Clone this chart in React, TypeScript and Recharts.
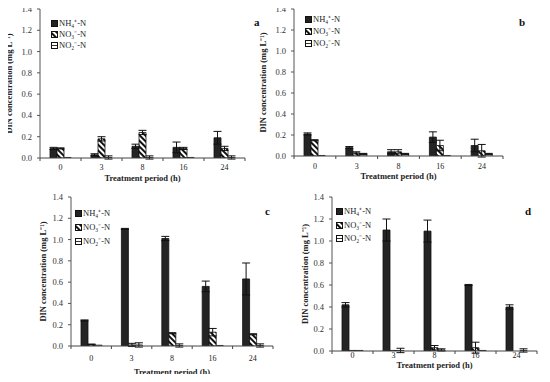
import { BarChart, Bar, XAxis, YAxis, ErrorBar } from 'recharts'

const periods = ['0', '3', '8', '16', '24']
const yTicks = [0, 0.2, 0.4, 0.6, 0.8, 1.0, 1.2, 1.4]

// panel a
const aNH4 = [0.09, 0.03, 0.11, 0.1, 0.19]
const aNH4Err = [0.01, 0.01, 0.02, 0.05, 0.06]
const aNO3 = [0.09, 0.18, 0.24, 0.09, 0.09]
const aNO3Err = [0.005, 0.02, 0.02, 0.01, 0.02]
const aNO2 = [0.005, 0.005, 0.005, 0.005, 0.005]
const aNO2Err = [0, 0.015, 0.015, 0, 0.015]

// panel b
const bNH4 = [0.21, 0.08, 0.04, 0.18, 0.1]
const bNH4Err = [0.01, 0.01, 0.02, 0.05, 0.06]
const bNO3 = [0.15, 0.03, 0.04, 0.1, 0.05]
const bNO3Err = [0.005, 0.01, 0.02, 0.05, 0.06]
const bNO2 = [0.005, 0.02, 0.02, 0.005, 0.02]
const bNO2Err = [0, 0.005, 0.005, 0, 0.005]

// panel c
const cNH4 = [0.24, 1.1, 1.01, 0.56, 0.63]
const cNH4Err = [0.005, 0.005, 0.02, 0.05, 0.15]
const cNO3 = [0.015, 0.01, 0.12, 0.13, 0.11]
const cNO3Err = [0.003, 0.015, 0.005, 0.035, 0.005]
const cNO2 = [0.008, 0.01, 0.005, 0.005, 0.005]
const cNO2Err = [0, 0.02, 0.015, 0, 0.015]

// panel d
const dNH4 = [0.42, 1.1, 1.09, 0.6, 0.4]
const dNH4Err = [0.02, 0.1, 0.1, 0.005, 0.02]
const dNO3 = [0.005, 0.005, 0.03, 0.03, 0]
const dNO3Err = [0, 0, 0.02, 0.05, 0]
const dNO2 = [0.005, 0.005, 0.01, 0.005, 0.005]
const dNO2Err = [0, 0.02, 0.01, 0, 0.015]

const seriesNames = ['NH₄⁺-N', 'NO₃⁻-N', 'NO₂⁻-N']

const FONT = '"Liberation Serif", "Times New Roman", serif'

function buildRows(nh4: number[], nh4e: number[], no3: number[], no3e: number[], no2: number[], no2e: number[]) {
  return periods.map((p, i) => ({
    period: p,
    nh4: nh4[i],
    nh4e: nh4e[i],
    no3: no3[i],
    no3e: no3e[i],
    no2: no2[i],
    no2e: no2e[i],
  }))
}

function Patterns({ id }: { id: string }) {
  return (
    <defs>
      <pattern id={`${id}-diag`} patternUnits="userSpaceOnUse" width={4} height={4} patternTransform="rotate(45)">
        <rect width={4} height={4} fill="#fff" />
        <rect width={4} height={2} fill="#111" />
      </pattern>
      <pattern id={`${id}-horiz`} patternUnits="userSpaceOnUse" width={3} height={3}>
        <rect width={3} height={3} fill="#fff" />
        <rect width={3} height={1} fill="#333" />
      </pattern>
    </defs>
  )
}

function Swatch({ kind, id }: { kind: number; id: string }) {
  const fill = kind === 0 ? '#222' : kind === 1 ? `url(#${id}-diag)` : `url(#${id}-horiz)`
  return (
    <svg width={7} height={7} style={{ marginRight: 1 }}>
      <Patterns id={id} />
      <rect x={0.5} y={0.5} width={6} height={6} fill={fill} stroke="#111" strokeWidth={1} />
    </svg>
  )
}

interface PanelProps {
  id: string
  letter: string
  left: number
  top: number
  width: number
  height: number
  margin: { top: number; right: number; left: number; bottom: number }
  yAxisWidth: number
  xAxisHeight: number
  yTitleOffset: number
  xTickDy: number
  xTitleDy: number
  letterPos: [number, number]
  legendPos: [number, number]
  legendGap: number
  border: boolean
  rows: ReturnType<typeof buildRows>
}

function Panel(p: PanelProps) {
  const plotLeft = p.margin.left + p.yAxisWidth
  const plotW = p.width - plotLeft - p.margin.right
  const plotBottom = p.height - p.margin.bottom - p.xAxisHeight
  const band = plotW / periods.length
  const XTick = (props: any) => {
    const { x, payload, index } = props
    const y = plotBottom
    return (
      <g>
        <line x1={x - band / 2} x2={x - band / 2} y1={y} y2={y + 3} stroke="#444" />
        {index === periods.length - 1 && <line x1={x + band / 2} x2={x + band / 2} y1={y} y2={y + 3} stroke="#444" />}
        <text x={x} y={y + p.xTickDy} textAnchor="middle" fontSize={8} fill="#222" fontFamily={FONT}>
          {payload.value}
        </text>
      </g>
    )
  }
  return (
    <div style={{ position: 'absolute', left: p.left, top: p.top, width: p.width, height: p.height }}>
      <BarChart
        width={p.width}
        height={p.height}
        data={p.rows}
        margin={p.margin}
        barGap={0}
        barSize={7}
        style={{ fontFamily: FONT }}
      >
        <Patterns id={p.id} />
        <XAxis
          dataKey="period"
          height={p.xAxisHeight}
          interval={0}
          tickLine={false}
          tickSize={0}
          tickMargin={0}
          axisLine={{ stroke: '#444' }}
          tick={XTick}
        />
        <YAxis
          width={p.yAxisWidth}
          domain={[0, 1.4]}
          ticks={yTicks}
          tickFormatter={(v: number) => v.toFixed(1)}
          tickSize={3}
          tickMargin={5}
          tick={{ fontSize: 8.5, fill: '#333' }}
          axisLine={{ stroke: '#555' }}
          tickLine={{ stroke: '#555' }}
          allowDataOverflow
          label={{
            value: 'DIN concentration (mg L⁻¹)',
            angle: -90,
            position: 'insideLeft',
            offset: p.yTitleOffset,
            fontSize: 8.5,
            fontWeight: 'bold',
            fill: '#222',
            style: { textAnchor: 'middle' },
          }}
        />
        {p.border && (
          <YAxis yAxisId="frame" orientation="right" width={0} tick={false} tickLine={false} axisLine={{ stroke: '#c8c8c8' }} />
        )}
        {p.border && (
          <XAxis xAxisId="frame" orientation="top" height={0} tick={false} tickLine={false} axisLine={{ stroke: '#c8c8c8' }} />
        )}
        <Bar dataKey="nh4" fill="#242424" stroke="#111" strokeWidth={0.8} isAnimationActive={false}>
          <ErrorBar dataKey="nh4e" width={4} stroke="#111" strokeWidth={1} isAnimationActive={false} />
        </Bar>
        <Bar dataKey="no3" fill={`url(#${p.id}-diag)`} stroke="#111" strokeWidth={0.8} isAnimationActive={false}>
          <ErrorBar dataKey="no3e" width={4} stroke="#111" strokeWidth={1} isAnimationActive={false} />
        </Bar>
        <Bar dataKey="no2" fill={`url(#${p.id}-horiz)`} stroke="#111" strokeWidth={0.8} isAnimationActive={false}>
          <ErrorBar dataKey="no2e" width={4} stroke="#111" strokeWidth={1} isAnimationActive={false} />
        </Bar>
      </BarChart>
      <div
        style={{
          position: 'absolute',
          left: plotLeft,
          width: plotW,
          top: plotBottom + p.xTitleDy - 6,
          height: 12,
          lineHeight: '12px',
          textAlign: 'center',
          fontSize: 8.5,
          fontWeight: 'bold',
          color: '#222',
          fontFamily: FONT,
          whiteSpace: 'nowrap',
        }}
      >
        Treatment period (h)
      </div>
      <div
        style={{
          position: 'absolute',
          left: p.legendPos[0],
          top: p.legendPos[1],
          fontSize: 8.5,
          lineHeight: `${p.legendGap}px`,
          color: '#222',
          fontFamily: FONT,
        }}
      >
        {seriesNames.map((s, i) => (
          <div key={s} style={{ display: 'flex', alignItems: 'center', whiteSpace: 'nowrap' }}>
            <Swatch kind={i} id={`${p.id}-lg${i}`} />
            <span>{s}</span>
          </div>
        ))}
      </div>
      <div
        style={{
          position: 'absolute',
          left: p.letterPos[0],
          top: p.letterPos[1],
          fontSize: 11,
          fontWeight: 'bold',
          fontFamily: FONT,
          color: '#111',
        }}
      >
        {p.letter}
      </div>
    </div>
  )
}

export default function App() {
  const rowsA = buildRows(aNH4, aNH4Err, aNO3, aNO3Err, aNO2, aNO2Err)
  const rowsB = buildRows(bNH4, bNH4Err, bNO3, bNO3Err, bNO2, bNO2Err)
  const rowsC = buildRows(cNH4, cNH4Err, cNO3, cNO3Err, cNO2, cNO2Err)
  const rowsD = buildRows(dNH4, dNH4Err, dNO3, dNO3Err, dNO2, dNO2Err)
  return (
    <div style={{ position: 'relative', width: 550, height: 382, background: '#fff', margin: -8, fontFamily: FONT }}>
      <Panel
        id="pa"
        letter="a"
        left={0}
        top={0}
        width={260}
        height={190}
        margin={{ top: 9, right: 15, left: 0, bottom: 0 }}
        yAxisWidth={40}
        xAxisHeight={32}
        yTitleOffset={9}
        xTickDy={12}
        xTitleDy={20}
        letterPos={[254, 16]}
        legendPos={[51, 18]}
        legendGap={11}
        border={false}
        rows={rowsA}
      />
      <Panel
        id="pb"
        letter="b"
        left={255}
        top={0}
        width={270}
        height={190}
        margin={{ top: 9, right: 22, left: 0, bottom: 0 }}
        yAxisWidth={39}
        xAxisHeight={34}
        yTitleOffset={8}
        xTickDy={13}
        xTitleDy={20}
        letterPos={[264, 16]}
        legendPos={[50, 13]}
        legendGap={12}
        border
        rows={rowsB}
      />
      <Panel
        id="pc"
        letter="c"
        left={30}
        top={190}
        width={260}
        height={190}
        margin={{ top: 7, right: 17, left: 0, bottom: 0 }}
        yAxisWidth={41}
        xAxisHeight={34}
        yTitleOffset={13}
        xTickDy={15}
        xTitleDy={26}
        letterPos={[235, 15]}
        legendPos={[45, 16]}
        legendGap={14}
        border
        rows={rowsC}
      />
      <Panel
        id="pd"
        letter="d"
        left={292}
        top={190}
        width={258}
        height={190}
        margin={{ top: 7, right: 13, left: 0, bottom: 0 }}
        yAxisWidth={40}
        xAxisHeight={29}
        yTitleOffset={13}
        xTickDy={7}
        xTitleDy={14}
        letterPos={[233, 15]}
        legendPos={[44, 15]}
        legendGap={13.5}
        border={false}
        rows={rowsD}
      />
    </div>
  )
}
